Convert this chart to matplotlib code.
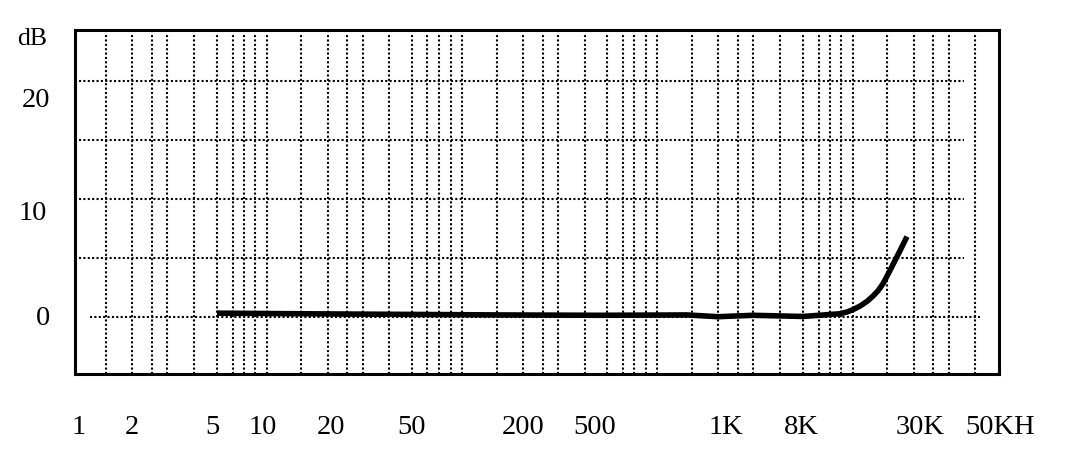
import matplotlib
matplotlib.use("Agg")
import matplotlib.pyplot as plt

# ---- data ----
# horizontal position along the (hand-drawn, non-uniform) frequency axis, in chart units
curve_x = [217, 300, 400, 500, 600, 687, 718, 753, 803, 840, 847, 853, 860, 867, 873, 878, 883, 888, 894, 900, 907]
curve_db = [0.3, 0.25, 0.2, 0.15, 0.12, 0.15, 0.0, 0.12, 0.02, 0.25, 0.4, 0.6, 0.9, 1.3, 1.75, 2.2, 2.8, 3.6, 4.6, 5.6, 6.8]

grid_x = [106, 132.3, 152, 167, 194, 217.3, 232.7, 243.7, 255.3, 267,
          301.3, 328, 347.3, 362.7, 389.3, 412, 427.3, 439, 450.7, 462,
          497.3, 523, 542.7, 558, 585, 607.3, 623, 634.3, 645.7, 657.3,
          691.7, 718.3, 737.7, 753.3, 780, 803.3, 818.7, 830, 841.3, 852.7,
          887, 914, 933.3, 948.7, 975.3]
grid_db = [5, 10, 15, 20]

x_labels = ["1", "2", "5", "10", "20", "50", "200", "500", "1K", "8K", "30K", "50KH"]
x_label_pos = [78.3, 131.7, 212.3, 262.3, 330.7, 411.7, 523.3, 594.3, 725.7, 801.7, 920, 1000]

y_labels = ["dB", "20", "10", "0"]

# ---- figure ----
W, H = 1080, 458
fig = plt.figure(figsize=(W / 100, H / 100), dpi=100)
plt.rcParams['font.family'] = ['Liberation Serif', 'DejaVu Serif']

L, R, T, B = 75, 998.7, 30, 374
ax = fig.add_axes([L / W, 1 - B / H, (R - L) / W, (B - T) / H])

px_per_db = 11.785
y0 = 316.7
ax.set_xlim(L, R)
ax.set_ylim(-(B - y0) / px_per_db, (y0 - T) / px_per_db)

for s in ax.spines.values():
    s.set_linewidth(2.2)
    s.set_color("black")
ax.set_xticks([])
ax.set_yticks([])

dot = (0, (1, 1.1))
ax.vlines(grid_x, 0, 0.99, transform=ax.get_xaxis_transform(),
          colors="black", linewidth=1.5, linestyles=[dot])
ax.hlines(grid_db, 79, 964, colors="black", linewidth=1.5, linestyles=[dot])
ax.hlines([0], 90, 980, colors="black", linewidth=1.5, linestyles=[dot])

ax.plot(curve_x, curve_db, color="black", linewidth=4.0,
        solid_capstyle="butt", solid_joinstyle="round", zorder=5)

# x labels
for lab, xp in zip(x_labels, x_label_pos):
    ax.text(xp, (H - 433.5 - (H - B)) / (B - T), lab, transform=ax.get_xaxis_transform(),
            ha="center", va="baseline", fontsize=20.5, clip_on=False)

# y labels (placed as in the drawing)
y_label_xy = [(32.3, 45, 18.5), (35.7, 107.3, 20.5), (32.3, 220, 20.5), (43.3, 325, 20.5)]
for lab, (xp, yb, fs) in zip(y_labels, y_label_xy):
    fig.text(xp / W, 1 - yb / H, lab, ha="center", va="baseline", fontsize=fs)

fig.savefig("out.png", dpi=100)
